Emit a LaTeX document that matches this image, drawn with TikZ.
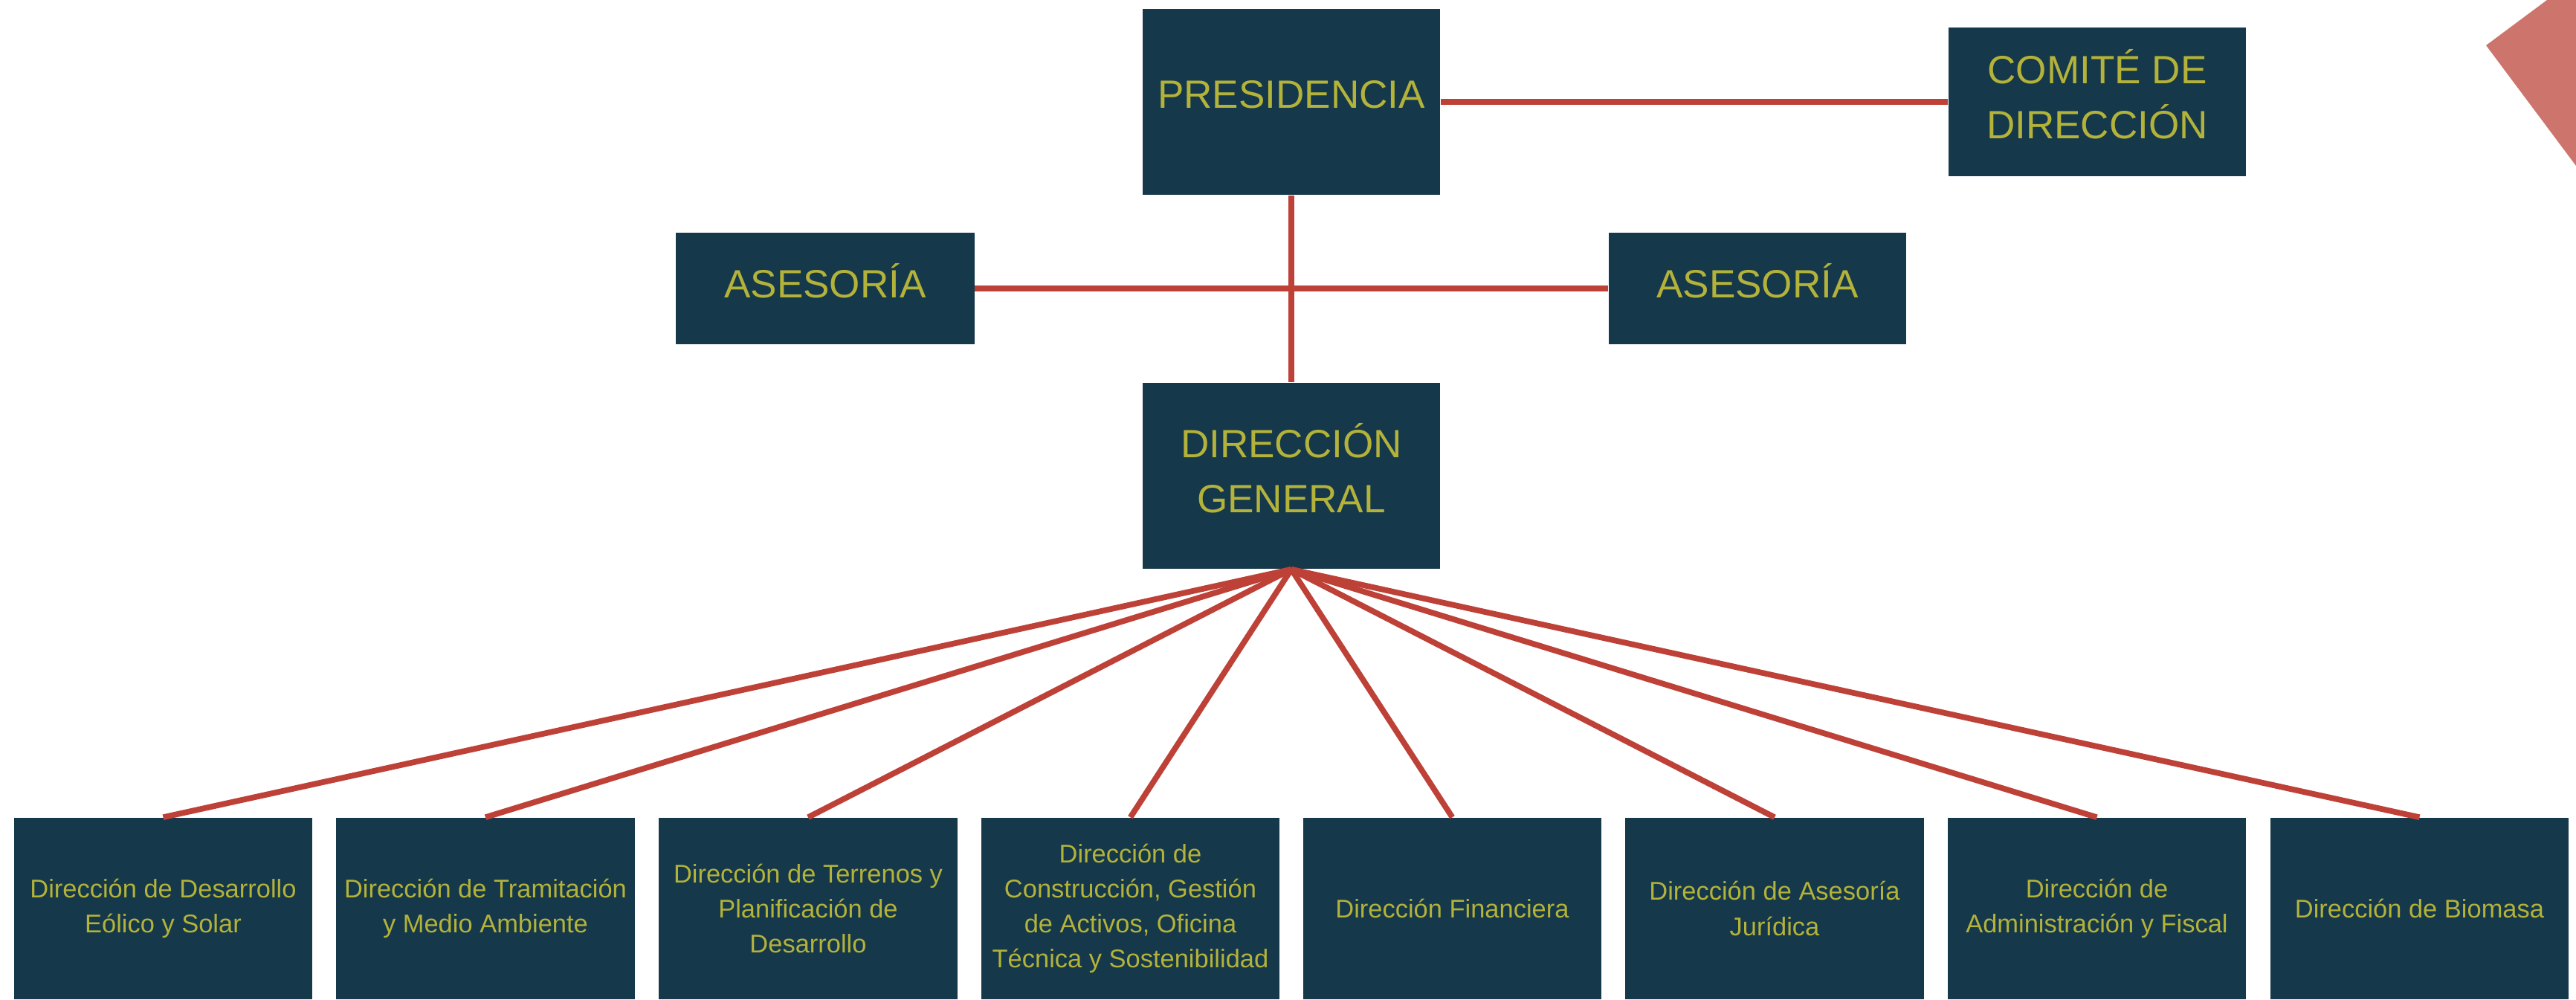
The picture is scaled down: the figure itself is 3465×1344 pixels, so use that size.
\documentclass[tikz,border=0pt]{standalone}
\usepackage{fontspec}
\setmainfont{Liberation Sans}
\definecolor{boxfill}{HTML}{15384A}
\definecolor{boxtext}{HTML}{B3B23A}
\definecolor{linkred}{HTML}{BE4138}
\definecolor{deco}{HTML}{CD756C}
\begin{document}
\begin{tikzpicture}[x=0.01cm,y=-0.01cm,
  box/.style={fill=boxfill,draw=none,rectangle,inner sep=0pt,minimum width=4cm},
  bigtxt/.style={text=boxtext,align=center,inner sep=0pt,font=\fontsize{15.1pt}{21pt}\selectfont},
  smalltxt/.style={text=boxtext,align=center,inner sep=0pt,font=\fontsize{9.8pt}{13.4pt}\selectfont},
  link/.style={draw=linkred,line width=2.2pt}]
\useasboundingbox (0,0) rectangle (3465,1344);
\fill[white] (0,0) rectangle (3465,1344);
% decorative shape
\fill[deco] (3426,0) -- (3344,61) -- (3465,223) -- (3465,0) -- cycle;

% top nodes
\node[box,minimum height=2.5cm] (pres) at (1737,137) {};
\node[box,minimum height=2.0cm] (comite) at (2821,137) {};
\node[box,minimum height=1.5cm,minimum width=4.01cm] (ases1) at (1110,388) {};
\node[box,minimum height=1.5cm] (ases2) at (2364,388) {};
\node[box,minimum height=2.5cm] (dg) at (1737,640) {};

% bottom nodes
\foreach \i/\cx in {1/219.5,2/653,3/1087,4/1520.5,5/1953.5,6/2387,7/2820.5,8/3254.5}{
  \node[box,minimum width=4.01cm,minimum height=2.44cm] (b\i) at (\cx,1222) {};
}

% connectors
\draw[link] (pres.east) -- (comite.west);
\draw[link] (ases1.east) -- (ases2.west);
\draw[link] (pres.south) -- (dg.north);
\foreach \i in {1,...,8}{
  \draw[link] (dg.south) -- (b\i.north);
}

% texts
\node[bigtxt] (presT) at ([yshift=0.1cm]pres.center) {PRESIDENCIA};
\node[bigtxt] (comiteT) at ([yshift=0.1cm]comite.center) {COMITÉ DE\\DIRECCIÓN};
\node[bigtxt] (ases1T) at ([yshift=0.1cm]ases1.center) {ASESORÍA};
\node[bigtxt] (ases2T) at ([yshift=0.1cm]ases2.center) {ASESORÍA};
\node[bigtxt] (dgT) at ([yshift=0.1cm]dg.center) {DIRECCIÓN\\GENERAL};

\node[smalltxt] (b1T) at (b1.center) {Dirección de Desarrollo\\Eólico y Solar};
\node[smalltxt] (b2T) at (b2.center) {Dirección de Tramitación\\y Medio Ambiente};
\node[smalltxt] (b3T) at (b3.center) {Dirección de Terrenos y\\Planificación de\\Desarrollo};
\node[smalltxt] (b4T) at (b4.center) {Dirección de\\Construcción, Gestión\\de Activos, Oficina\\Técnica y Sostenibilidad};
\node[smalltxt] (b5T) at (b5.center) {Dirección Financiera};
\node[smalltxt] (b6T) at (b6.center) {Dirección de Asesoría\\Jurídica};
\node[smalltxt] (b7T) at (b7.center) {Dirección de\\Administración y Fiscal};
\node[smalltxt] (b8T) at (b8.center) {Dirección de Biomasa};
\end{tikzpicture}
\end{document}
